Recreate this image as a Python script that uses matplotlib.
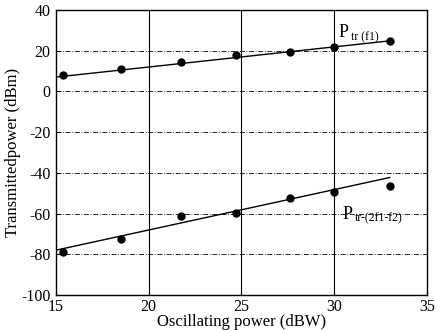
import matplotlib
matplotlib.use("Agg")
import matplotlib.pyplot as plt
import matplotlib.transforms as mtrans
import numpy as np

plt.rcParams['font.family'] = ['Liberation Serif', 'DejaVu Serif']
plt.rcParams['axes.unicode_minus'] = False

# measured points
osc_power = [15.4, 18.5, 21.75, 24.7, 27.6, 30.0, 33.0]
p_f1 = [7.9, 10.8, 14.2, 17.7, 19.3, 21.6, 24.6]
p_im = [-79.1, -72.7, -61.4, -59.5, -52.6, -49.6, -46.7]

# straight-line fits as drawn
fit_x = [15, 33]
fit_f1 = [7.0, 24.8]
fit_im = [-78.0, -42.3]

xticks = [15, 20, 25, 30, 35]
yticks = [40, 20, 0, -20, -40, -60, -80, -100]

fig = plt.figure(figsize=(4.36, 3.3), dpi=100)
ax = fig.add_axes([0.128, 0.106, 0.851, 0.864])

for x in [20, 25, 30]:
    ax.axvline(x, color='black', lw=0.8)
for y in [20, 0, -20, -40, -60, -80]:
    ax.axhline(y, color='black', lw=0.6, ls=(0, (6, 2, 1, 2)))

ax.plot(fit_x, fit_f1, color='black', lw=1.0)
ax.plot(fit_x, fit_im, color='black', lw=1.0)
ax.plot(osc_power, p_f1, 'o', color='black', ms=5)
ax.plot(osc_power, p_im, 'o', color='black', ms=5)

def label(x, y, sub):
    ax.text(x, y, 'P', fontsize=13, va='baseline')
    off = mtrans.offset_copy(ax.transData, fig=fig, x=9, y=-2, units='points')
    ax.text(x, y, sub, fontsize=8.5, va='baseline', transform=off)

label(30.25, 26.5, 'tr (f1)')
label(30.45, -62.5, 'tr-(2f1-f2)')

ax.set_xlim(15, 35)
ax.set_ylim(-100, 40)
ax.set_xticks(xticks)
ax.set_yticks(yticks)
ax.tick_params(direction='in', length=3, labelsize=11.5, colors='black')
ax.tick_params(axis='y', pad=4)
ax.tick_params(axis='x', pad=3)
for s in ax.spines.values():
    s.set_linewidth(1.0)

ax.set_xlabel('Oscillating power (dBW)', fontsize=12, labelpad=-1)
ax.set_ylabel('Transmittedpower (dBm)', fontsize=12, labelpad=0)

fig.savefig('out.png', dpi=100)
